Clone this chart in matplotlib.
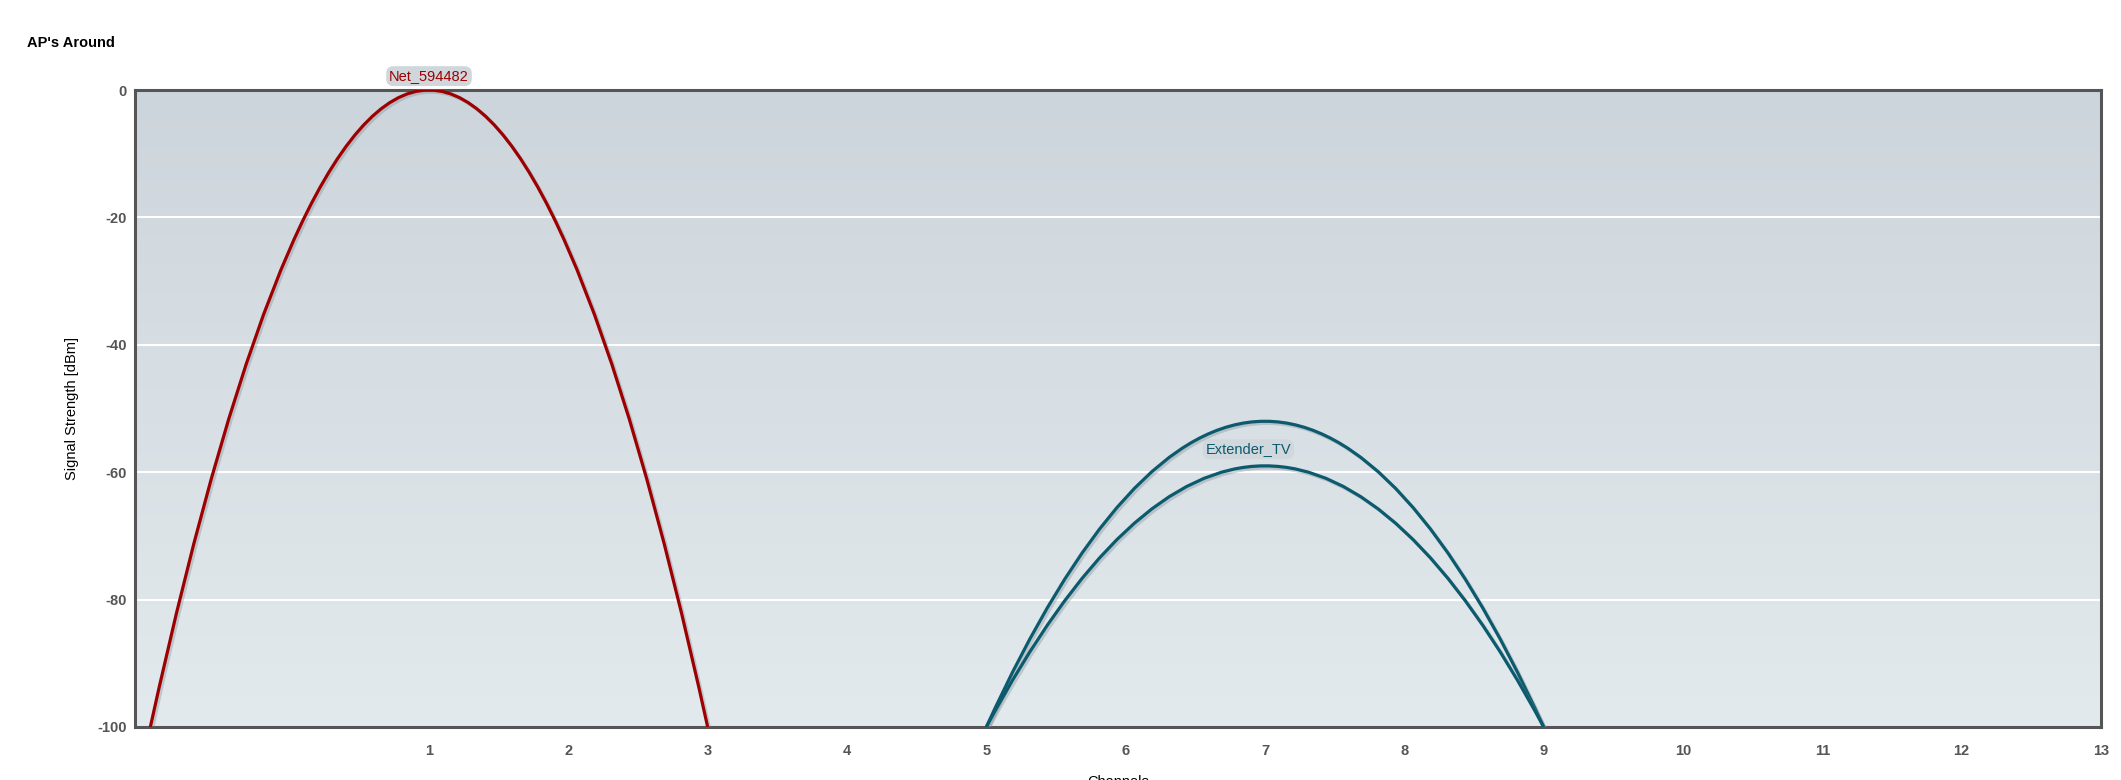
import matplotlib.pyplot as plt
import matplotlib.patheffects as pe
import numpy as np
from matplotlib.path import Path
from matplotlib.patches import PathPatch
from matplotlib.colors import LinearSegmentedColormap

plt.rcParams["font.family"] = ["Liberation Sans", "DejaVu Sans"]
plt.rcParams["axes.unicode_minus"] = False

# Data
ap_names = ["Net_594482", "Extender_TV", "Extender_TV"]
ap_channels = [1, 7, 7]
ap_signal = [0, -52, -59]
ap_colors = ["#9c0000", "#0c5a6d", "#0c5a6d"]
channel_span = 2  # each AP covers +/- 2 channels
floor_dbm = -100

x_ticks = list(range(1, 14))
y_ticks = [0, -20, -40, -60, -80, -100]

fig = plt.figure(figsize=(21.21, 7.8), dpi=100)
ax = fig.add_axes([135 / 2121, 1 - 727 / 780, (2101 - 135) / 2121, (727 - 90) / 780])

xmin, xmax = -1.11, 13
ax.set_xlim(xmin, xmax)
ax.set_ylim(floor_dbm, 0)

# gradient background
grad = np.linspace(0, 1, 256).reshape(-1, 1)
cmap = LinearSegmentedColormap.from_list("bg", ["#cdd5dc", "#e3eaed"])
ax.imshow(grad, extent=[0, 1, 0, 1], transform=ax.transAxes, cmap=cmap,
          aspect="auto", zorder=0)

ax.set_axisbelow(True)
ax.yaxis.grid(True, color="white", linewidth=1.5)

shadow = [pe.SimpleLineShadow(offset=(1.5, -1.5), shadow_color="#7a8890", alpha=0.35),
          pe.Normal()]

for ch, sig, col in zip(ap_channels, ap_signal, ap_colors):
    # quadratic curve from floor, peaking at the signal level
    verts = [(ch - channel_span, floor_dbm), (ch, 2 * sig - floor_dbm),
             (ch + channel_span, floor_dbm)]
    path = Path(verts, [Path.MOVETO, Path.CURVE3, Path.CURVE3])
    patch = PathPatch(path, facecolor="none", edgecolor=col, linewidth=2.3,
                      zorder=3, clip_on=True)
    patch.set_path_effects(shadow)
    ax.add_patch(patch)

# data labels
ax.annotate(ap_names[0], xy=(ap_channels[0], ap_signal[0]), xytext=(0, 10),
            textcoords="offset points", ha="center", va="center",
            fontsize=10.5, color=ap_colors[0], annotation_clip=False, zorder=5,
            bbox=dict(boxstyle="round,pad=0.2,rounding_size=0.5", fc="#cfd6dc", ec="none"))
ax.text(6.88, -56.4, ap_names[1], ha="center", va="center", fontsize=10.5,
        color=ap_colors[1], zorder=5,
        bbox=dict(boxstyle="round,pad=0.2,rounding_size=0.5", fc="#d0d8dd", ec="none"))

ax.set_xticks(x_ticks)
ax.set_yticks(y_ticks)
ax.tick_params(length=0, labelsize=10.5, labelcolor="#555555", pad=6)
for lbl in ax.get_xticklabels() + ax.get_yticklabels():
    lbl.set_fontweight("bold")
ax.tick_params(axis="x", pad=12)

for s in ax.spines.values():
    s.set_color("#555555")
    s.set_linewidth(2.2)

ax.set_ylabel("Signal Strength [dBm]", fontsize=10.5, labelpad=13)
fig.text(1118 / 2121, 1 - 775 / 780, "Channels", ha="center", va="top", fontsize=10.5)
fig.text(27 / 2121, 1 - 43 / 780, "AP's Around", ha="left", va="center",
         fontsize=10.5, fontweight="bold")

fig.savefig("out.png", dpi=100)
